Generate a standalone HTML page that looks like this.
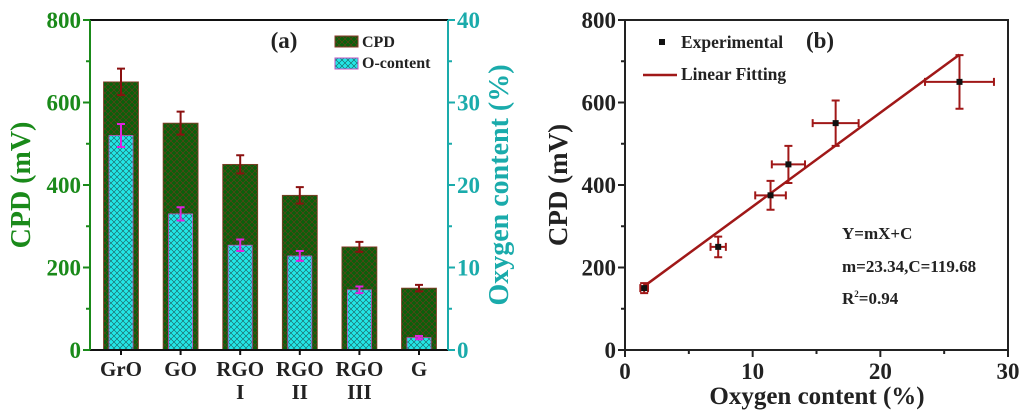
<!DOCTYPE html>
<html><head><meta charset="utf-8"><style>
body{margin:0;background:#fff}
svg text{font-family:"Liberation Serif",serif;font-weight:bold}
</style></head><body>
<svg id="s" width="1024" height="414" xmlns="http://www.w3.org/2000/svg">
<defs>
<pattern id="pg" width="6" height="6" patternUnits="userSpaceOnUse"><rect width="6" height="6" fill="#0b600b"/><path d="M0,0L6,6M6,0L0,6" stroke="#6a3a1a" stroke-width="0.6"/></pattern>
<pattern id="pc" width="6" height="6" patternUnits="userSpaceOnUse"><rect width="6" height="6" fill="#22e6e6"/><path d="M0,0L6,6M6,0L0,6" stroke="#1a5a5a" stroke-width="0.6"/></pattern>
</defs>
<g id="a"></g>
<g id="b"></g>
</svg>
<script>
const cats=["GrO","GO","RGO|I","RGO|II","RGO|III","G"];
const cpd=[650,550,450,375,250,150];
const cpdErr=[32,28,22,20,12,8];
const oxy=[26,16.5,12.7,11.4,7.3,1.5];
const oxyErr=[1.4,0.8,0.7,0.6,0.4,0.2];
const leftTicks=[0,200,400,600,800];
const rightTicks=[0,10,20,30,40];
const xb=[1.5,7.3,11.4,12.8,16.5,26.2];
const yb=[150,250,375,450,550,650];
const xbErr=[0.3,0.6,1.2,1.3,1.8,2.7];
const ybErr=[12,25,35,45,55,65];
const bxTicks=[0,10,20,30];
const byTicks=[0,200,400,600,800];
const fitM=23.34, fitC=119.68;

const NS="http://www.w3.org/2000/svg";
function mk(p,t,at,txt){const e=document.createElementNS(NS,t);for(const k in at)e.setAttribute(k,at[k]);if(txt!=null)e.textContent=txt;p.appendChild(e);return e;}
const A=document.getElementById('a'),B=document.getElementById('b');
const L=90,R=448,T=20,Bt=350;
const yL=v=>Bt-(v/800)*(Bt-T), yR=v=>Bt-(v/40)*(Bt-T);
const cx=i=>121+i*59.6;
const green="#1a8a1a",cyan="#1aabab";
cats.forEach((c,i)=>{
 let e=mk(A,'rect',{x:cx(i)-17.5,y:yL(cpd[i]),width:35,height:Bt-yL(cpd[i]),fill:'url(#pg)',stroke:'#8a3a2a','stroke-width':0.8});
 
 e=mk(A,'rect',{x:cx(i)-12,y:yR(oxy[i]),width:24,height:Bt-yR(oxy[i]),fill:'url(#pc)',stroke:'#c050c0','stroke-width':0.8});
 
 [[yL(cpd[i]-cpdErr[i]),yL(cpd[i]+cpdErr[i]),'#8b1010'],[yR(oxy[i]-oxyErr[i]),yR(oxy[i]+oxyErr[i]),'#e020e0']].forEach(([a,b,col])=>{
  const g=mk(A,'path',{d:`M${cx(i)},${a}V${b}M${cx(i)-4},${a}h8M${cx(i)-4},${b}h8`,stroke:col,'stroke-width':2,fill:'none'});
  
 });
 const parts=c.split('|');
 parts.forEach((p,j)=>{const t=mk(A,'text',{x:cx(i),y:376+j*23,'font-size':21,'text-anchor':'middle',fill:'#222'},p);
 });
});
mk(A,'line',{x1:L,y1:T,x2:R,y2:T,stroke:'#111','stroke-width':2});
mk(A,'line',{x1:L,y1:Bt,x2:R,y2:Bt,stroke:'#111','stroke-width':2});
mk(A,'line',{x1:L,y1:T,x2:L,y2:Bt,stroke:green,'stroke-width':2});
mk(A,'line',{x1:R,y1:T,x2:R,y2:Bt,stroke:cyan,'stroke-width':2});
cats.forEach((c,i)=>mk(A,'line',{x1:cx(i),y1:Bt,x2:cx(i),y2:Bt+5,stroke:'#111','stroke-width':2}));
for(let v=0;v<=800;v+=100){const y=yL(v);mk(A,'line',{x1:L-(v%200?4:7),y1:y,x2:L,y2:y,stroke:green,'stroke-width':2});}
for(let v=0;v<=40;v+=5){const y=yR(v);mk(A,'line',{x1:R,y1:y,x2:R+(v%10?4:7),y2:y,stroke:cyan,'stroke-width':2});}
leftTicks.forEach(v=>{const t=mk(A,'text',{x:L-9,y:yL(v)+8,'font-size':23,'text-anchor':'end',fill:green},v);});
rightTicks.forEach(v=>{const t=mk(A,'text',{x:R+9,y:yR(v)+8,'font-size':23,fill:cyan},v);});
let t=mk(A,'text',{x:0,y:0,'font-size':28,'text-anchor':'middle',fill:green,transform:'translate(30,185) rotate(-90)'},'CPD (mV)');
t=mk(A,'text',{x:0,y:0,'font-size':28,'text-anchor':'middle',fill:cyan,transform:'translate(508,185) rotate(-90)'},'Oxygen content (%)');
t=mk(A,'text',{x:284,y:48,'font-size':23,'text-anchor':'middle',fill:'#222'},'(a)');
mk(A,'rect',{x:335,y:36,width:23,height:11,fill:'url(#pg)',stroke:'#8a3a2a'});
mk(A,'rect',{x:335,y:58,width:23,height:11,fill:'url(#pc)',stroke:'#c050c0'});
t=mk(A,'text',{x:362,y:47,'font-size':16,fill:'#222'},'CPD');
t=mk(A,'text',{x:362,y:68,'font-size':16,fill:'#222'},'O-content');
const bL=625,bR=1008,bT=20,bB=350;
const xB=v=>bL+(v/30)*(bR-bL), yB=v=>bB-(v/800)*(bB-bT);
mk(B,'rect',{x:bL,y:bT,width:bR-bL,height:bB-bT,fill:'none',stroke:'#222','stroke-width':2});
for(let v=0;v<=30;v+=5){const x=xB(v);mk(B,'line',{x1:x,y1:bB,x2:x,y2:bB+(v%10?4:7),stroke:'#222','stroke-width':2});}
for(let v=0;v<=800;v+=100){const y=yB(v);mk(B,'line',{x1:bL-(v%200?4:7),y1:y,x2:bL,y2:y,stroke:'#222','stroke-width':2});}
bxTicks.forEach(v=>{const t=mk(B,'text',{x:xB(v),y:bB+29,'font-size':23,'text-anchor':'middle',fill:'#222'},v);});
byTicks.forEach(v=>{const t=mk(B,'text',{x:bL-9,y:yB(v)+8,'font-size':23,'text-anchor':'end',fill:'#222'},v);});
const x0=xb[0],x1=xb[xb.length-1];
const fl=mk(B,'line',{x1:xB(x0),y1:yB(fitM*x0+fitC),x2:xB(x1),y2:yB(fitM*x1+fitC-15),stroke:'#a01818','stroke-width':2.5});

xb.forEach((x,i)=>{
 const X=xB(x),Y=yB(yb[i]),x1=xB(x-xbErr[i]),x2=xB(x+xbErr[i]),y1=yB(yb[i]-ybErr[i]),y2=yB(yb[i]+ybErr[i]);
 const g=mk(B,'path',{d:`M${x1},${Y}H${x2}M${x1},${Y-4}v8M${x2},${Y-4}v8M${X},${y1}V${y2}M${X-4},${y1}h8M${X-4},${y2}h8`,stroke:'#a01818','stroke-width':2,fill:'none'});
 
 const p=mk(B,'rect',{x:X-3,y:Y-3,width:6,height:6,fill:'#111'});
 
});
mk(B,'rect',{x:659,y:39,width:6,height:6,fill:'#111'});
t=mk(B,'text',{x:681,y:48,'font-size':17.5,fill:'#222'},'Experimental');
mk(B,'line',{x1:643,y1:75,x2:677,y2:75,stroke:'#a01818','stroke-width':2.5});
t=mk(B,'text',{x:681,y:80,'font-size':17.5,fill:'#222'},'Linear Fitting');
t=mk(B,'text',{x:820,y:48,'font-size':23,'text-anchor':'middle',fill:'#222'},'(b)');
t=mk(B,'text',{x:842,y:239,'font-size':17,fill:'#222'},'Y=mX+C');
t=mk(B,'text',{x:842,y:272,'font-size':17,fill:'#222'},'m=23.34,C=119.68');
t=mk(B,'text',{x:842,y:304,'font-size':17,fill:'#222'});t.innerHTML='R<tspan font-size="9" dy="-7">2</tspan><tspan dy="7">=0.94</tspan>';
t=mk(B,'text',{x:0,y:0,'font-size':27,'text-anchor':'middle',fill:'#222',transform:'translate(567,185) rotate(-90)'},'CPD (mV)');
t=mk(B,'text',{x:817,y:404,'font-size':25,'text-anchor':'middle',fill:'#222'},'Oxygen content (%)');
</script>
</body></html>
